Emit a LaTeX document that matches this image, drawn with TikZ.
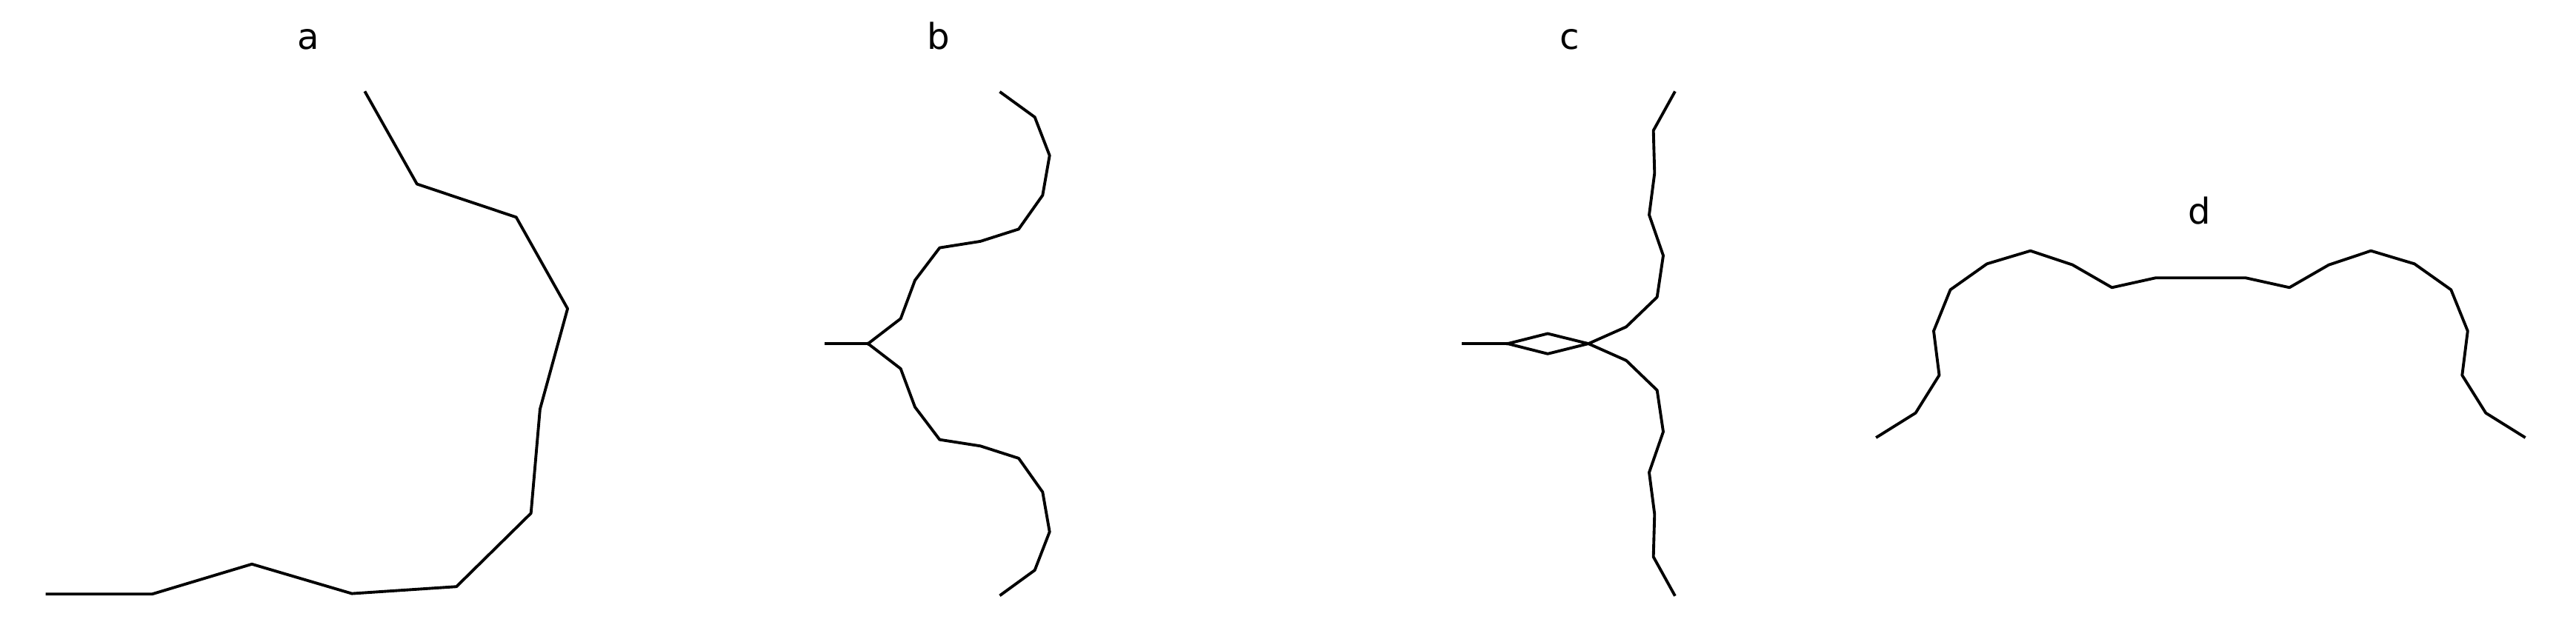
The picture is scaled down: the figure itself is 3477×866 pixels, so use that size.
\documentclass[tikz,border=0pt]{standalone}
\usepackage{fontspec}
\setmainfont{DejaVu Sans}
\begin{document}
\begin{tikzpicture}[x=0.01cm,y=-0.01cm,line cap=rect,line join=round,
  chain/.style={line width=1.1pt},
  tag/.style={anchor=base,inner sep=0pt,font=\fontsize{13.7}{16}\selectfont}]
  \useasboundingbox (0,0) rectangle (3477,866);
  % a
  \node[tag] (taga) at (416,66) {a};
  \draw[chain] (493.3,125) -- (562.8,248.5) -- (696.7,293.3) -- (766.1,416.8) -- (728.9,552.5)
    -- (716.7,693.1) -- (616.1,792.2) -- (475,801.6) -- (340,761.8) -- (205.6,802.2) -- (63.5,802.2);
  % b
  \node[tag] (tagb) at (1267,66) {b};
  \draw[chain] (1115.3,464.1) -- (1171.7,464.1);
  \draw[chain] (1171.7,464.1) -- (1215.7,430.3) -- (1235,378.5) -- (1268.3,334.6) -- (1323.3,325.9) -- (1375,309.4)
    -- (1407.3,263.7) -- (1416.7,210) -- (1396.7,158.2) -- (1351,125);
  \draw[chain] (1171.7,464.1) -- (1215.7,497.9) -- (1235,549.7) -- (1268.3,593.7) -- (1323.3,602.3) -- (1375,618.9)
    -- (1407.3,664.5) -- (1416.7,718.2) -- (1396.7,770) -- (1351,803.2);
  % c
  \node[tag] (tagc) at (2119,66) {c};
  \draw[chain] (1975,464.1) -- (2035,464.1);
  \draw[chain] (2035,464.1) -- (2089,450.5) -- (2144,464.1) -- (2195,486.8) -- (2236.7,527) -- (2245,583.1)
    -- (2226,638) -- (2233.3,694.3) -- (2231.7,752) -- (2260,803.1);
  \draw[chain] (2035,464.1) -- (2089,477.8) -- (2144,464.1) -- (2195,441.4) -- (2236.7,401.2) -- (2245,345.1)
    -- (2226,290.2) -- (2233.3,233.9) -- (2231.7,176.2) -- (2260,125.1);
  % d
  \node[tag] (tagd) at (2969,302) {d};
  \draw[chain] (2533.8,590) -- (2585.6,557.7) -- (2617.5,506.7) -- (2610,447) -- (2632.5,391.3) -- (2681.9,356.3)
    -- (2740.6,338.7) -- (2797.5,357.7) -- (2850.6,388.3) -- (2909.4,375.3) -- (2970.4,375.3)
    -- (3031.4,375.3) -- (3090.2,388.3) -- (3143.3,357.7) -- (3200.2,338.7) -- (3258.9,356.3)
    -- (3308.3,391.3) -- (3330.8,447) -- (3323.3,506.7) -- (3355.2,557.7) -- (3407,590);
\end{tikzpicture}
\end{document}
